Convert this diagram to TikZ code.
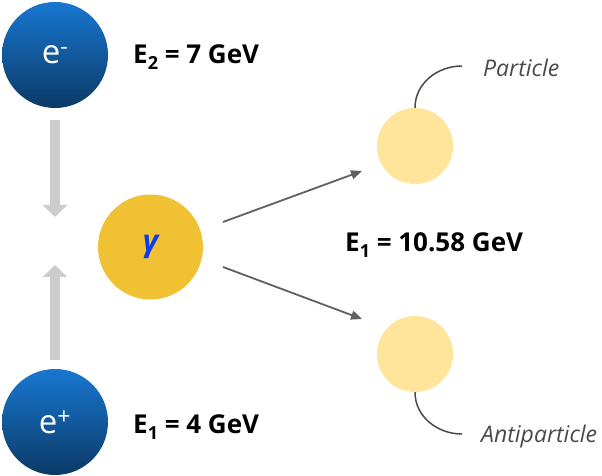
\documentclass[tikz,border=0pt]{standalone}
\usepackage{fontspec}
\setmainfont{Open Sans}
\usetikzlibrary{arrows.meta}
\definecolor{eblueT}{HTML}{1877D1}
\definecolor{eblueB}{HTML}{0B3A66}
\definecolor{gammaY}{HTML}{F0C233}
\definecolor{partY}{HTML}{FFE49B}
\definecolor{arrG}{HTML}{CCCCCC}
\definecolor{lineG}{HTML}{606060}
\definecolor{gblue}{HTML}{0A3CF0}
\definecolor{callG}{HTML}{4A4A4A}
\newcommand\lowsub[1]{\raisebox{-6pt}{\fontsize{18}{18}\selectfont #1}}
\begin{document}
\begin{tikzpicture}[x=1pt,y=1pt,
  electron/.style={circle, minimum size=106pt, inner sep=0pt, top color=eblueT, bottom color=eblueB, text=white, font=\fontsize{33}{33}\selectfont},
  gammanode/.style={circle, minimum size=105pt, inner sep=0pt, fill=gammaY, text=gblue, font=\fontsize{30}{30}\selectfont\bfseries\itshape},
  product/.style={circle, minimum size=76pt, inner sep=0pt, fill=partY},
  energy/.style={anchor=base west, inner sep=0pt, font=\fontsize{26}{26}\selectfont\bfseries},
  fatarrow/.style={line width=10pt, arrG, -{Triangle[width=24pt,length=12pt]}},
  flow/.style={line width=1.8pt, lineG, -{Triangle[width=9pt,length=11pt]}},
  callout/.style={line width=1.5pt, callG},
  calltext/.style={anchor=west, inner sep=0pt, text=callG, font=\fontsize{23}{23}\selectfont\itshape}]
\useasboundingbox (0,0) rectangle (602,476);
\node[electron] (em) at (55,421) {e\textsuperscript{-}};
\node[electron] (ep) at (55,54) {e\textsuperscript{+}};
\node[gammanode] (g) at (150.5,229) {γ};
\node[product] (part) at (415,330) {};
\node[product] (anti) at (415,122) {};
\node[energy] (e2) at (133,412) {E\lowsub{2} = 7 GeV};
\node[energy] (e1) at (133,42) {E\lowsub{1} = 4 GeV};
\node[energy] (etot) at (345,224) {E\lowsub{1} = 10.58 GeV};
\coordinate (ta) at (55,356);
\coordinate (tb) at (55,259);
\coordinate (ba) at (55,116);
\coordinate (bb) at (55,211);
\draw[fatarrow] (ta) -- (tb);
\draw[fatarrow] (ba) -- (bb);
\coordinate (f1a) at (223,254);
\coordinate (f1b) at (362,305);
\coordinate (f2a) at (223,209);
\coordinate (f2b) at (362,157);
\draw[flow] (f1a) -- (f1b);
\draw[flow] (f2a) -- (f2b);
\coordinate (pc) at (462,410);
\coordinate (ac) at (462,42);
\draw[callout] (part.north) to[out=90,in=180] (pc);
\draw[callout] (anti.south) to[out=-90,in=180] (ac);
\node[calltext] (pl) at (483,408) {Particle};
\node[calltext] (al) at (481,39) {Antiparticle};
\end{tikzpicture}
\end{document}
